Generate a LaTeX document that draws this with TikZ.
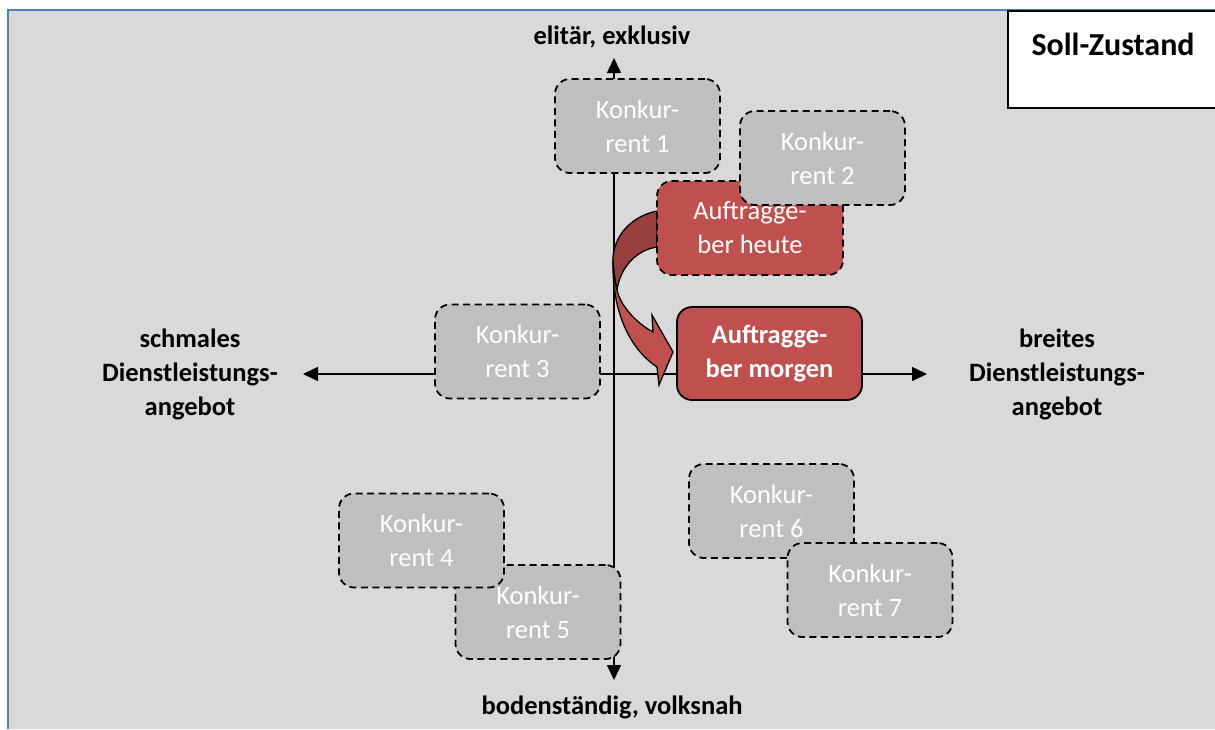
\documentclass[tikz,border=0pt]{standalone}
\usepackage{fontspec}
\setmainfont{Carlito}
\usetikzlibrary{arrows.meta}
\definecolor{bggrey}{HTML}{D9D9D9}
\definecolor{boxgrey}{HTML}{BFBFBF}
\definecolor{redfill}{HTML}{C0504D}
\definecolor{darkred}{HTML}{963F3D}
\definecolor{frameblue}{HTML}{4F81BD}
\tikzset{
  kbox/.style={draw=black, fill=boxgrey, line width=1.8pt, dash pattern=on 7pt off 4.5pt,
    rounded corners=15pt, minimum width=165pt, minimum height=94pt, align=center,
    text=white, font=\fontsize{26.5}{34}\selectfont, inner sep=0pt},
  rbox/.style={kbox, fill=redfill},
  lbl/.style={align=center, font=\bfseries\fontsize{26.5}{34}\selectfont, inner sep=0pt},
  axis/.style={line width=1.5pt, -{Triangle[length=15pt,width=14pt]}},
}
\begin{document}
\begin{tikzpicture}[x=1pt,y=-1pt]
\useasboundingbox (0,0) rectangle (1215,729);
\fill[white] (0,0) rectangle (1215,729);
\fill[bggrey] (9,11) rectangle (1215,729);
\draw[frameblue, line width=2.5pt] (8,729) -- (8,10) -- (1215,10);
% axes
\coordinate (c) at (614,374);
\coordinate (top) at (614,58);
\coordinate (bot) at (614,680);
\coordinate (lft) at (303,374);
\coordinate (rgt) at (927,374);
\draw[axis] (c) -- (top);
\draw[axis] (c) -- (bot);
\draw[axis] (c) -- (lft);
\draw[axis] (c) -- (rgt);
% curved arrow
\draw[line width=1.3pt, fill=darkred] (657,211) .. controls (628,217) and (611,240) .. (613,265)
   .. controls (614,276) and (615,283) .. (617,290)
   .. controls (620,268) and (636,250) .. (657,247) -- cycle;
\draw[line width=1.3pt, fill=redfill] (613,262) .. controls (612,318) and (634,352) .. (657,367)
   -- (659,385) -- (673,352) -- (652,315) -- (653,332)
   .. controls (636,323) and (620,305) .. (617,290) .. controls (615,282) and (614,272) .. (613,262) -- cycle;
% boxes
\node[kbox] (k1) at (637.5,126) {Konkur-\\rent 1};
\node[rbox] (heute) at (750,228) [minimum width=186pt] {Auftragge-\\ber heute};
\node[kbox] (k2) at (822.5,158) {Konkur-\\rent 2};
\node[kbox] (k3) at (517.5,351.5) {Konkur-\\rent 3};
\node[rbox, solid, rounded corners=15pt, font=\bfseries\fontsize{26.5}{34}\selectfont,
      minimum width=185pt, minimum height=93pt] (morgen) at (769.5,353.5) {Auftragge-\\ber morgen};
\node[kbox] (k5) at (538,612) {Konkur-\\rent 5};
\node[kbox] (k4) at (421.5,540.5) {Konkur-\\rent 4};
\node[kbox] (k6) at (771.5,511) {Konkur-\\rent 6};
\node[kbox] (k7) at (870,590) {Konkur-\\rent 7};
% labels
\node[lbl] (ltop) at (612,37) {elitär, exklusiv};
\node[lbl] (lbot) at (612,707) {bodenständig, volksnah};
\node[lbl] (llft) at (190,374) {schmales\\Dienstleistungs-\\angebot};
\node[lbl] (lrgt) at (1057,374) {breites\\Dienstleistungs-\\angebot};
% Soll box
\draw[line width=2pt, fill=white] (1008,11) rectangle (1220,108);
\node[lbl, font=\bfseries\fontsize{32}{36}\selectfont] (soll) at (1113,44) {Soll-Zustand};
\end{tikzpicture}
\end{document}
